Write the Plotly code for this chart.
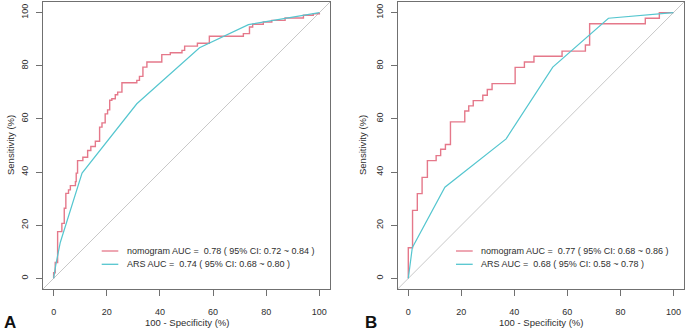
import plotly.graph_objects as go

# ---------------- data ----------------
tick_vals = [0, 20, 40, 60, 80, 100]
tick_text = ["0", "20", "40", "60", "80", "100"]
axis_range = [-4, 104]

# Panel A (step ROC points: x where rise occurs, level after rise)
a_nomo_fpr = [0, 0, 0.6, 1.5, 3.1, 4.0, 4.6, 5.6, 6.3, 8.2, 8.5, 9.0, 11.0, 12.8, 14.0, 15.7,
              17.3, 18.2, 19.4, 20.3, 21.1, 21.9, 23.2, 24.1, 25.7, 31.3, 32.3, 33.6, 35.1,
              40.7, 43.9, 48.3, 49.3, 54.1, 58.6, 71.4, 73.7, 74.9, 78.9, 82.1, 87.1, 94.0,
              97.7, 100]
a_nomo_tpr = [0, 2.1, 6.0, 17.6, 20.7, 26.4, 32.0, 33.3, 34.9, 36.4, 39.6, 44.3, 45.6, 48.1,
              49.6, 51.6, 56.9, 58.5, 61.9, 63.4, 67.0, 67.6, 69.1, 70.1, 73.6, 74.5, 76.0,
              79.5, 81.4, 84.2, 84.9, 85.8, 87.4, 88.5, 91.1, 92.1, 94.6, 95.6, 96.5, 97.1,
              98.0, 99.0, 99.6, 100]
a_ars_fpr = [0, 0.8, 2.5, 10.7, 31.3, 54.9, 73.3, 100]
a_ars_tpr = [0, 5.0, 13.5, 39.6, 65.7, 86.8, 95.5, 100]

# Panel B
b_nomo_fpr = [0, 0, 1.6, 3.4, 5.2, 7.2, 10.5, 12.2, 14.0, 15.9, 21.3, 22.8, 24.5, 28.1, 29.8,
              31.6, 40.3, 43.8, 47.4, 58.0, 66.8, 68.4, 89.4, 94.7, 100]
b_nomo_tpr = [0, 11.5, 25.6, 31.9, 38.0, 44.3, 46.2, 48.6, 50.4, 58.9, 63.0, 64.9, 66.9, 68.9,
              71.1, 73.3, 79.4, 81.4, 83.6, 85.5, 87.8, 95.8, 97.9, 100, 100]
b_ars_fpr = [0, 1.5, 13.8, 36.9, 54.5, 75.5, 100]
b_ars_tpr = [0, 11.5, 34.3, 52.5, 79.5, 97.9, 100]

a_labels = ["nomogram AUC =  0.78 ( 95% CI: 0.72 ~ 0.84 )", "ARS AUC =  0.74 ( 95% CI: 0.68 ~ 0.80 )"]
b_labels = ["nomogram AUC =  0.77 ( 95% CI: 0.68 ~ 0.86 )", "ARS AUC =  0.68 ( 95% CI: 0.58 ~ 0.78 )"]
panel_letters = ["A", "B"]
x_title = "100 - Specificity (%)"
y_title = "Sensitivity (%)"

# ---------------- style ----------------
W, H = 685, 332
ML, MR, MT, MB = 43, 1, 2, 43
PW, PH = W - ML - MR, H - MT - MB
FONT = "Liberation Sans, Arial, sans-serif"
C_NOMO = "#E5788A"
C_ARS = "#55C6CF"
C_DIAG = "#C8C8C8"
C_BOX = "#707070"
C_TXT = "#2E2E2E"


def xp(px):
    return (px - ML) / PW


def yp(py):
    return (H - MB - py) / PH


fig = go.Figure()

panels = [
    ("x", "y", a_nomo_fpr, a_nomo_tpr, a_ars_fpr, a_ars_tpr),
    ("x2", "y2", b_nomo_fpr, b_nomo_tpr, b_ars_fpr, b_ars_tpr),
]
for xa, ya, nf, nt, af, at in panels:
    fig.add_trace(go.Scatter(x=axis_range, y=axis_range, mode="lines", xaxis=xa, yaxis=ya,
                             line=dict(color=C_DIAG, width=1), showlegend=False, hoverinfo="skip"))
    fig.add_trace(go.Scatter(x=nf, y=nt, mode="lines", xaxis=xa, yaxis=ya, line_shape="hv",
                             line=dict(color=C_NOMO, width=1.4), showlegend=False))
    fig.add_trace(go.Scatter(x=af, y=at, mode="lines", xaxis=xa, yaxis=ya,
                             line=dict(color=C_ARS, width=1.2), showlegend=False))

axis_common = dict(range=axis_range, tickvals=tick_vals, ticktext=tick_text, showgrid=False,
                   zeroline=False, showline=True, mirror=True, linecolor=C_BOX, linewidth=1,
                   ticks="outside", ticklen=6, tickcolor=C_BOX, tickwidth=1,
                   tickfont=dict(family=FONT, size=9, color=C_TXT))

fig.update_layout(
    width=W, height=H, margin=dict(l=ML, r=MR, t=MT, b=MB),
    paper_bgcolor="white", plot_bgcolor="white", showlegend=False,
    xaxis=dict(domain=[0, xp(330)], anchor="y", ticklabelstandoff=8, **axis_common),
    yaxis=dict(domain=[0, 1], anchor="x", tickangle=-90, ticklabelstandoff=4, **axis_common),
    xaxis2=dict(domain=[xp(397.7), 1], anchor="y2", ticklabelstandoff=8, **axis_common),
    yaxis2=dict(domain=[0, 1], anchor="x2", tickangle=-90, ticklabelstandoff=4, **axis_common),
)

annots = []
shapes = []
# axis titles and legends
for (xt_c, yt_c, labels, leg_x0, leg_x1, leg_tx) in [
    (187.2, 10, a_labels, 101.7, 118.3, 125),
    (541, 362, b_labels, 456, 472.7, 479.3),
]:
    annots.append(dict(text=x_title, x=xp(xt_c), y=yp(322.7), xref="paper", yref="paper",
                       showarrow=False, xanchor="center", yanchor="middle",
                       font=dict(family=FONT, size=9.5, color=C_TXT)))
    annots.append(dict(text=y_title, x=xp(yt_c), y=yp(145), xref="paper", yref="paper",
                       showarrow=False, xanchor="center", yanchor="middle", textangle=-90,
                       font=dict(family=FONT, size=9.5, color=C_TXT)))
    for lbl, col, ly in zip(labels, [C_NOMO, C_ARS], [251, 264.3]):
        shapes.append(dict(type="line", xref="paper", yref="paper", x0=xp(leg_x0), x1=xp(leg_x1),
                           y0=yp(ly), y1=yp(ly), line=dict(color=col, width=1.3)))
        annots.append(dict(text=lbl, x=xp(leg_tx), y=yp(ly), xref="paper", yref="paper",
                           showarrow=False, xanchor="left", yanchor="middle",
                           font=dict(family=FONT, size=9, color=C_TXT)))

for letter, lx in zip(panel_letters, [10, 370.7]):
    annots.append(dict(text="<b>%s</b>" % letter, x=xp(lx), y=yp(322.5), xref="paper", yref="paper",
                       showarrow=False, xanchor="center", yanchor="middle",
                       font=dict(family=FONT, size=17, color="#111111")))

fig.update_layout(annotations=annots, shapes=shapes)
fig.write_html(
    "out.html",
    config={"displayModeBar": False},
    post_script="document.body.style.margin='0';document.body.style.overflow='hidden';",
)
